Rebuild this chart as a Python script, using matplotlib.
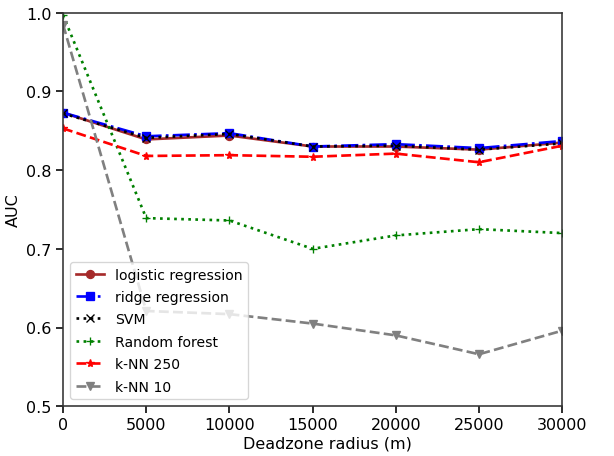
import matplotlib

matplotlib.use("Agg")
import matplotlib.pyplot as plt

radius = [0, 5000, 10000, 15000, 20000, 25000, 30000]

auc_logistic = [0.873, 0.839, 0.844, 0.830, 0.830, 0.826, 0.835]
auc_ridge = [0.873, 0.843, 0.847, 0.830, 0.833, 0.828, 0.837]
auc_svm = [0.872, 0.841, 0.846, 0.830, 0.831, 0.826, 0.834]
auc_forest = [0.997, 0.739, 0.736, 0.700, 0.717, 0.725, 0.720]
auc_knn250 = [0.853, 0.818, 0.819, 0.817, 0.821, 0.810, 0.831]
auc_knn10 = [0.985, 0.621, 0.617, 0.605, 0.590, 0.566, 0.596]

fig = plt.figure(figsize=(6.4, 4.76), dpi=96)
ax = fig.add_axes([0.1026, 0.109, 0.8124, 0.861])

style = dict(lw=2, ms=6)
ax.plot(radius, auc_logistic, color="brown", ls="-", marker="o", label="logistic regression", **style)
ax.plot(radius, auc_ridge, color="blue", ls="-.", marker="s", label="ridge regression", **style)
ax.plot(radius, auc_svm, color="black", ls=":", marker="x", label="SVM", **style)
ax.plot(radius, auc_forest, color="green", ls=":", marker="+", label="Random forest", **style)
ax.plot(radius, auc_knn250, color="red", ls="--", marker="*", label="k-NN 250", **style)
ax.plot(radius, auc_knn10, color="gray", ls="--", marker="v", label="k-NN 10", **style)

ax.set_xlim(0, 30000)
ax.set_ylim(0.5, 1.0)
ax.set_xlabel("Deadzone radius (m)", fontsize=12)
ax.set_ylabel("AUC", fontsize=12)
ax.xaxis.set_label_coords(0.53, -0.075)
ax.tick_params(labelsize=12, length=5, width=1.2)
for sp in ax.spines.values():
    sp.set_linewidth(1.2)
    sp.set_color("#333333")
ax.legend(loc="lower left", fontsize=10.5, labelspacing=0.6)

fig.savefig("out.png", dpi=96)
